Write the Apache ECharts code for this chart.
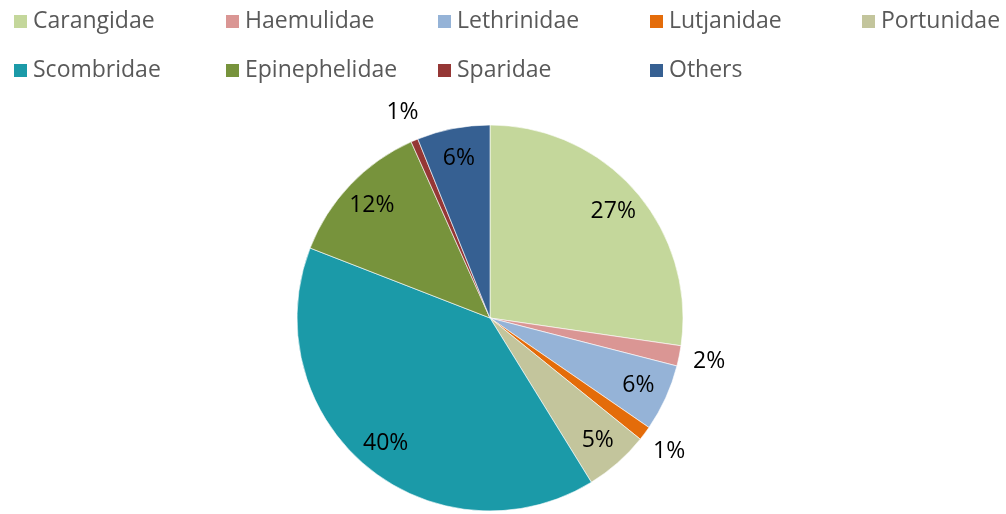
<!DOCTYPE html>
<html>
<head>
<meta charset="utf-8">
<script src="https://cdn.jsdelivr.net/npm/echarts@6/dist/echarts.min.js"></script>
<style>html,body{margin:0;padding:0;background:#fff}#c{width:1006px;height:514px}</style>
</head>
<body>
<div id="c"></div>
<script>
var categories = ['Carangidae','Haemulidae','Lethrinidae','Lutjanidae','Portunidae','Scombridae','Epinephelidae','Sparidae','Others'];
var shares = [27.3, 1.7, 5.6, 1.2, 5.4, 39.7, 12.4, 0.6, 6.1];
var colors = ['#C4D79B','#DA9694','#95B3D7','#E46C0A','#C3C59C','#1B9AA8','#77933C','#953735','#366092'];

var total = shares.reduce(function(a,b){return a+b;},0);
function pctLabel(p){ return Math.round(p.value/total*100) + '%'; }
function isSmall(v){ return v/total*100 < 2.5; }

var FONT = 'Open Sans';
var CX = 490, CY = 318, R = 193;

var mainData = categories.map(function(n,i){
  return {name:n, value:shares[i], itemStyle:{color:colors[i]}};
});
var innerData = categories.map(function(n,i){
  return {name:n, value:shares[i], label:{show:!isSmall(shares[i])}};
});
var outerData = categories.map(function(n,i){
  return {name:n, value:shares[i], label:{show:isSmall(shares[i])}};
});

var legends = categories.map(function(n,i){
  var col = i % 5, row = Math.floor(i/5);
  return {
    data:[n], left: 12 + 212*col, top: 10 + 49*row, padding:0, itemGap:0,
    itemWidth:15, itemHeight:15, icon:'rect', selectedMode:false,
    textStyle:{fontFamily:FONT, fontSize:23, color:'#595959'}
  };
});

var labelStyle = {fontFamily:FONT, fontSize:23, color:'#000', formatter:pctLabel, overflow:'none'};

var option = {
  animation:false,
  legend: legends,
  series:[
    {type:'pie', center:[CX,CY], radius:[0,R], startAngle:90, clockwise:true,
     data:mainData, label:{show:false}, labelLine:{show:false},
     itemStyle:{borderColor:'#ffffff', borderWidth:0.6}, emphasis:{disabled:true}, silent:true},
    {type:'pie', center:[CX,CY], radius:[127,R], startAngle:90, clockwise:true,
     data:innerData, itemStyle:{color:'transparent', borderWidth:0},
     label:Object.assign({position:'inside'}, labelStyle), labelLine:{show:false},
     emphasis:{disabled:true}, silent:true, tooltip:{show:false}},
    {type:'pie', center:[CX,CY], radius:[R,R+55], startAngle:90, clockwise:true,
     data:outerData, itemStyle:{color:'transparent', borderWidth:0},
     label:Object.assign({position:'inside'}, labelStyle), labelLine:{show:false},
     emphasis:{disabled:true}, silent:true, tooltip:{show:false}}
  ]
};
var chart = echarts.init(document.getElementById('c'), null, {renderer:'canvas'});
chart.setOption(option);
</script>
</body>
</html>
